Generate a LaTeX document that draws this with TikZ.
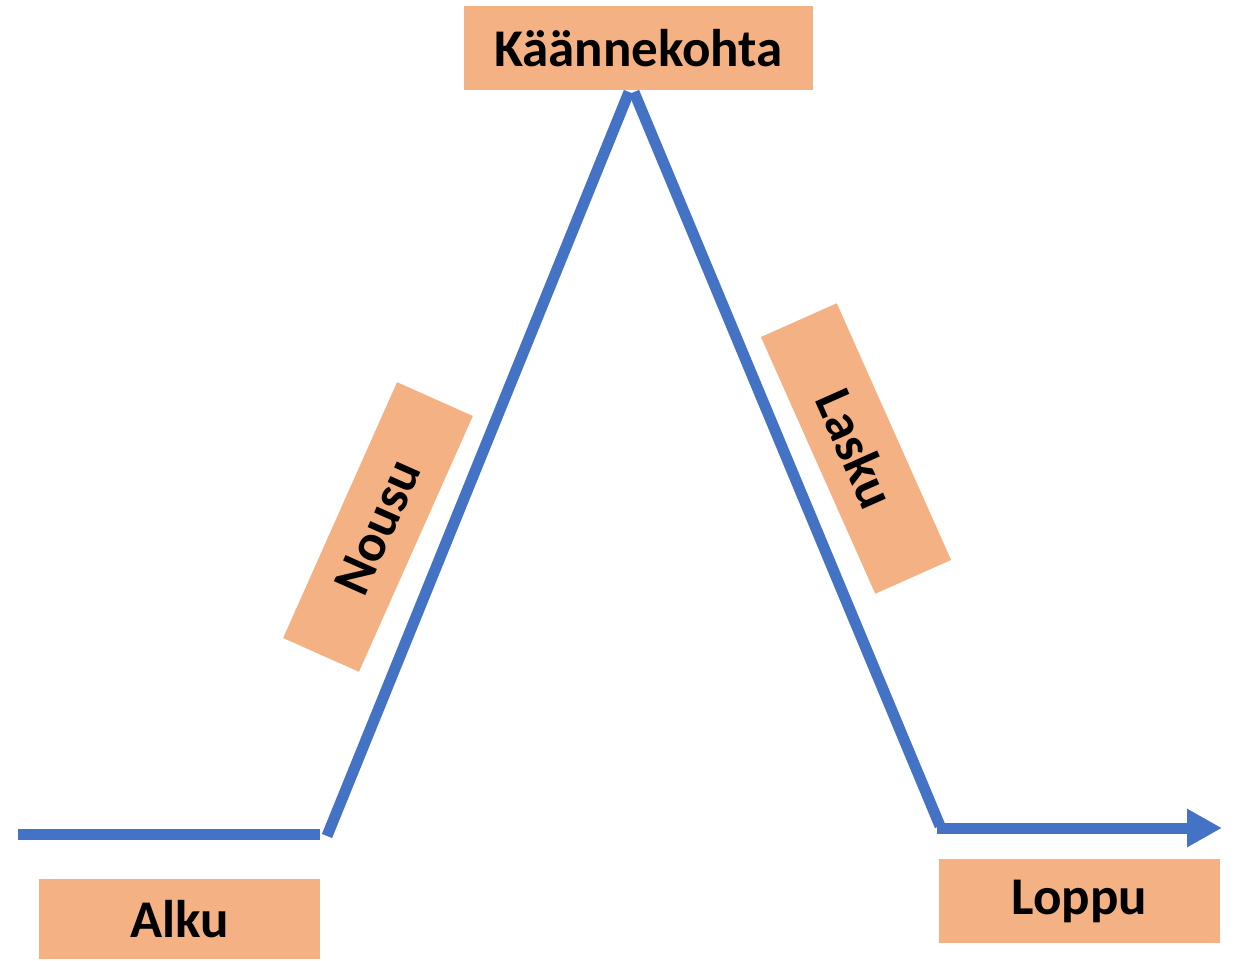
\documentclass[tikz,border=0pt]{standalone}
\usepackage{fontspec}
\setmainfont{Carlito}
\usetikzlibrary{arrows.meta}
\definecolor{boxfill}{HTML}{F4B183}
\definecolor{lineblue}{HTML}{4472C4}

\begin{document}
\begin{tikzpicture}[x=0.5pt,y=0.5pt,
  stagebox/.style={fill=boxfill, inner sep=0pt, font=\fontsize{26.5}{30}\selectfont\bfseries},
  plotline/.style={draw=lineblue, line width=5.5pt}]
\useasboundingbox (0,0) rectangle (1235,960);

% the curve
\coordinate (alkuA) at (18,126);
\coordinate (alkuB) at (320,126);
\coordinate (nousuA) at (327,124);
\coordinate (huippuA) at (629,868);
\coordinate (huippuB) at (634,868);
\coordinate (laskuB) at (940,134);
\coordinate (loppuA) at (937,132);
\coordinate (loppuB) at (1222,132);

\draw[plotline] (alkuA) -- (alkuB);
\draw[plotline] (nousuA) -- (huippuA);
\draw[plotline] (huippuB) -- (laskuB);
\draw[plotline, -{Triangle[length=17.5pt, width=18pt]}] (loppuA) -- (loppuB);

% labels
\node[stagebox, minimum width=174.5pt, minimum height=42pt] (kaanne) at (638.5,912) {Käännekohta};
\node[stagebox, minimum width=140.5pt, minimum height=40pt] (alku) at (179.5,41) {Alku};
\node[stagebox, minimum width=140.5pt, minimum height=42pt] (loppu) at (1079.5,59) {Loppu};
\node[stagebox, minimum width=140pt, minimum height=41.5pt, rotate=66] (nousu) at (378,433) {Nousu};
\node[stagebox, minimum width=140.5pt, minimum height=41.5pt, rotate=-66] (lasku) at (856,511.5) {Lasku};
\end{tikzpicture}
\end{document}
